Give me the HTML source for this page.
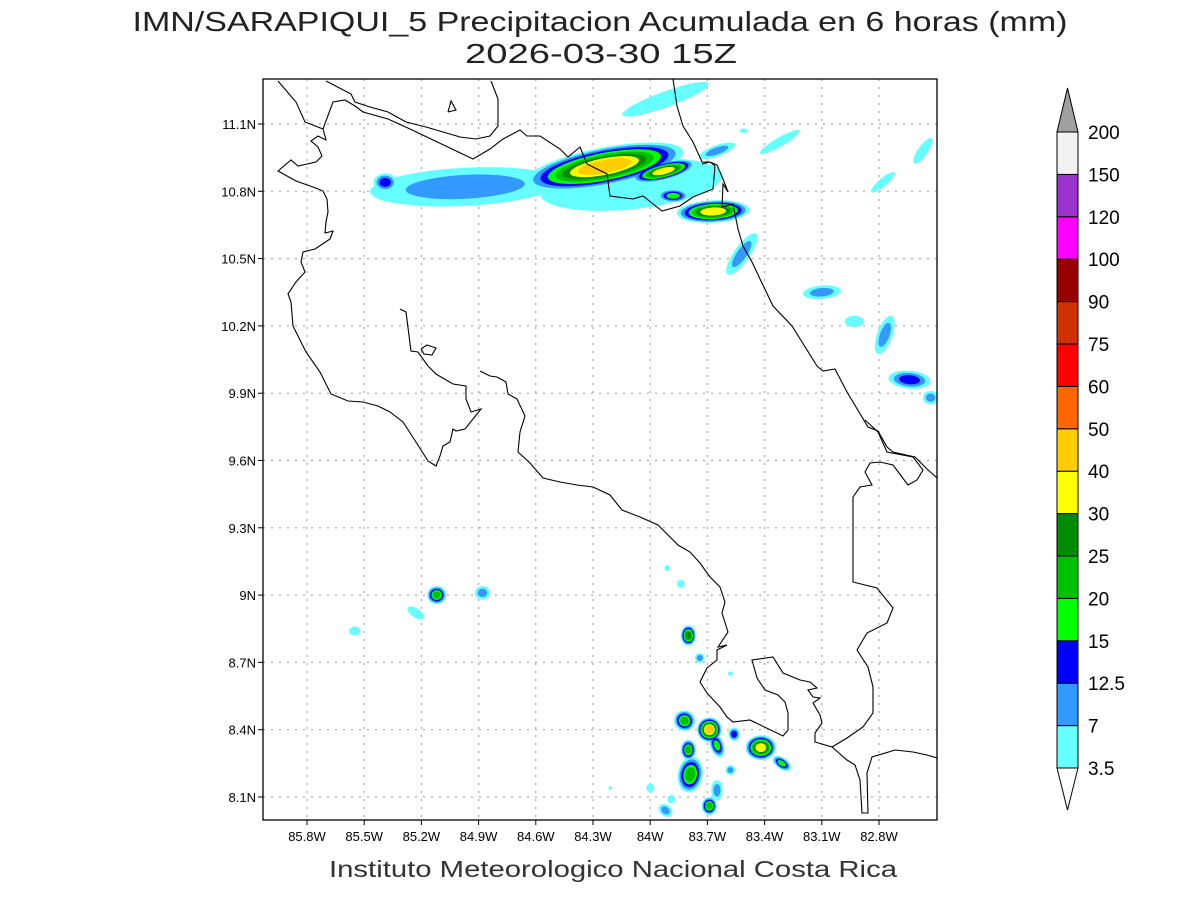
<!DOCTYPE html>
<html><head><meta charset="utf-8"><style>
html,body{margin:0;padding:0;background:#fff;}
svg{display:block;font-family:"Liberation Sans",sans-serif;}
</style></head><body>
<svg id="chart" width="1200" height="900" viewBox="0 0 1200 900" xmlns="http://www.w3.org/2000/svg">
<rect width="1200" height="900" fill="#fff"/>
<text x="600" y="31" font-size="28" text-anchor="middle" textLength="935" lengthAdjust="spacingAndGlyphs" fill="#222">IMN/SARAPIQUI_5 Precipitacion Acumulada en 6 horas (mm)</text>
<text x="601" y="63" font-size="28" text-anchor="middle" textLength="272" lengthAdjust="spacingAndGlyphs" fill="#222">2026-03-30 15Z</text>
<text x="613" y="877" font-size="23" text-anchor="middle" textLength="568" lengthAdjust="spacingAndGlyphs" fill="#333">Instituto Meteorologico Nacional Costa Rica</text>
<defs><clipPath id="plotclip"><rect x="263" y="79" width="674" height="741"/></clipPath></defs>
<g id="grid"></g>
<g id="shades" clip-path="url(#plotclip)"></g>
<g id="coast" clip-path="url(#plotclip)" fill="none" stroke="#000" stroke-width="1.1"></g>
<rect x="263" y="79" width="674" height="741" fill="none" stroke="#000" stroke-width="1.3"/>
<g id="axes"></g>
<g id="cbar"></g>
</svg>
<script>
// axis ticks
const lonTicks = [85.8,85.5,85.2,84.9,84.6,84.3,84.0,83.7,83.4,83.1,82.8];
const lonLabels = ["85.8W","85.5W","85.2W","84.9W","84.6W","84.3W","84W","83.7W","83.4W","83.1W","82.8W"];
const latTicks = [11.1,10.8,10.5,10.2,9.9,9.6,9.3,9.0,8.7,8.4,8.1];
const latLabels = ["11.1N","10.8N","10.5N","10.2N","9.9N","9.6N","9.3N","9N","8.7N","8.4N","8.1N"];
// colorbar
const levels = [3.5,7,12.5,15,20,25,30,40,50,60,75,90,100,120,150,200];
const levelColors = ["#66ffff","#3399ff","#0000ff","#00ff00","#00c000","#008c00","#ffff00","#ffcc00","#ff6600","#ff0000","#cc3300","#990000","#ff00ff","#9933cc","#f2f2f2"];
// precipitation cells (west longitude, north latitude, peak mm, radii deg, rotation)
const cellLon  = [84.10,84.97,85.39,84.24,83.93,83.92,83.65,83.67,83.88,83.52,83.10,82.93,82.77,82.64,82.53,83.32,82.78,82.57,83.51,
                  85.12,84.88,85.23,85.55,83.91,83.84,83.80,83.74,83.58,83.82,83.69,83.65,83.56,83.42,83.31,83.80,83.79,83.58,83.65,83.69,84.00,83.89,83.92,84.21];
const cellLat  = [10.83,10.82,10.84,10.91,10.89,11.21,10.98,10.71,10.78,10.52,10.35,10.22,10.16,9.96,9.88,11.02,10.84,10.98,11.07,
                  9.00,9.01,8.92,8.84,9.12,9.05,8.82,8.72,8.65,8.44,8.40,8.33,8.38,8.32,8.25,8.31,8.20,8.22,8.13,8.06,8.14,8.09,8.04,8.14];
const cellPeak = [5,11,13,45,32,5,9,35,18,12,9,6,9,13,8,4,4,6,4,
                  22,10,6,6,4,6,28,8,4,22,45,20,14,40,20,22,25,10,8,22,4,5,9,3.6];
const cellRx   = [0.48,0.50,0.06,0.42,0.17,0.24,0.10,0.19,0.08,0.13,0.10,0.05,0.04,0.11,0.04,0.12,0.08,0.08,0.02,
                  0.05,0.04,0.05,0.03,0.015,0.02,0.04,0.025,0.012,0.055,0.065,0.035,0.03,0.08,0.055,0.04,0.065,0.025,0.03,0.04,0.02,0.02,0.04,0.008];
const cellRy   = [0.11,0.085,0.04,0.085,0.04,0.035,0.025,0.05,0.03,0.035,0.03,0.025,0.09,0.04,0.03,0.02,0.018,0.022,0.01,
                  0.04,0.03,0.02,0.02,0.013,0.018,0.045,0.022,0.01,0.045,0.055,0.055,0.03,0.055,0.025,0.045,0.08,0.022,0.045,0.04,0.02,0.02,0.025,0.008];
const cellRot  = [-6,-3,0,-11,-14,-20,-20,-3,0,-55,-5,0,20,5,0,-30,-40,-55,0,
                  0,0,35,0,0,0,0,0,0,30,0,-20,0,0,35,0,10,0,0,0,0,0,40,0];

const NS="http://www.w3.org/2000/svg";
const X0=263,X1=937,Y0=79,Y1=820;
function xOf(lonW){return 307+(85.8-lonW)*(572/3.0);}
function yOf(lat){return 124+(11.1-lat)*(673/3.0);}
function mk(tag,attrs,parent){const e=document.createElementNS(NS,tag);for(const k in attrs)e.setAttribute(k,attrs[k]);parent.appendChild(e);return e;}

const grid=document.getElementById('grid'),axes=document.getElementById('axes');
lonTicks.forEach((v,i)=>{
  const x=xOf(v);
  const gl=mk('line',{x1:x,y1:Y0,x2:x,y2:Y1,stroke:'#aaa','stroke-width':1.2,'stroke-dasharray':'2,6'},grid);
  
  
  const tk=mk('line',{x1:x,y1:Y1,x2:x,y2:Y1+5,stroke:'#000'},axes);
  
  
  const t=mk('text',{x:x,y:841,'font-size':13,'text-anchor':'middle',fill:'#000'},axes);
  t.textContent=lonLabels[i];
  
  
});
latTicks.forEach((v,i)=>{
  const y=yOf(v);
  const gl=mk('line',{x1:X0,y1:y,x2:X1,y2:y,stroke:'#aaa','stroke-width':1.2,'stroke-dasharray':'2,6'},grid);
  
  
  const tk=mk('line',{x1:X0-5,y1:y,x2:X0,y2:y,stroke:'#000'},axes);
  
  
  const t=mk('text',{x:256,y:y+5,'font-size':13,'text-anchor':'end',fill:'#000'},axes);
  t.textContent=latLabels[i];
  
  
});

// shading: draw level by level
const shades=document.getElementById('shades');
for(let li=0;li<levelColors.length;li++){
  for(let c=0;c<cellLon.length;c++){
    const p=cellPeak[c];
    const k=levels.filter(t=>t<p).length;
    if(li>=k)continue;
    const s=1-0.75*(li/k);
    const cx=xOf(cellLon[c]),cy=yOf(cellLat[c]);
    const e=mk('ellipse',{cx:cx,cy:cy,rx:cellRx[c]*190.7*s,ry:cellRy[c]*224.3*s,fill:levelColors[li],
      transform:`rotate(${cellRot[c]} ${cx} ${cy})`},shades);
    
    
  }
}

// coastlines (base map, pixel paths)
const coastPaths=[
"278,81 296,102 305,122 323,129 326,140 318,136 311,141 318,147 322,156 316,162 298,166 291,160 278,171 296,181 313,187 323,191 327,199 328,212 326,222 325,233 333,231 330,239 315,249 303,252 301,262 305,272 296,282 288,294 291,302 293,326 298,336 306,352 320,372 331,394 348,401 363,402 378,406 390,412 403,422 416,442 428,461 436,466 440,456 443,446 450,442 453,429 456,431 465,429 481,409 471,412 466,399 466,386 453,384 436,374 428,366 418,352 411,351 406,312 400,309",
"326,81 351,94 355,102 370,107 388,112 406,122 426,127 443,132 460,137 476,139 490,136 498,126 498,99 491,81",
"448,112 451,101 456,110 448,112",
"421,349 427,345 436,348 432,355 424,354 421,349",
"323,129 333,102 345,100 355,106 363,112 388,119 410,129 473,159 490,149 503,139 520,130 527,136 540,136 560,149 568,157 580,147 587,164 607,174 610,196 633,199 643,196 662,211 680,206 693,197 713,189 715,166 710,162 702,164",
"673,79 677,106 683,126 693,142 702,162 710,162 717,165 723,179 728,192 723,184 722,207 733,204 738,229 743,246 752,262 760,279 773,306 792,326 817,366 823,371 835,369 847,392 868,427 878,431 887,447 893,452 915,457 927,469 937,478",
"480,371 490,376 497,377 506,382 508,394 517,399 525,416 520,432 518,452 530,463 543,478 560,482 577,485 593,487 610,495 622,510 640,517 658,525 670,537 678,545 690,552 700,563 710,577 720,587 725,602 722,613 728,632 718,647 727,645 717,650 717,660 707,668 700,682 707,693 720,707 727,717 733,722 750,720 783,736 788,730 788,713 785,702 778,695 765,690 757,678 752,660 773,657 783,673 800,680 810,682 817,688 808,690 813,697 820,698 813,703 820,715 822,723 815,733 815,742 832,747 847,760 855,765 860,780 862,813 868,813 867,773 872,757 895,750 913,752 927,755 937,758",
"865,420 878,432 887,452 913,457 923,470 917,480 908,485 893,465 880,462 870,463 865,472 872,485 860,487 853,497 853,582 877,588 893,608 887,623 867,633 857,650 868,667 873,687 873,713 863,727 847,738 832,747"
];
const coast=document.getElementById('coast');
coastPaths.forEach(p=>{
  const pl=mk('polyline',{points:p},coast);
  
  
});

// colorbar
const cb=document.getElementById('cbar');
const cbX=1057,cbW=21,cbTop=132,cbBot=768,step=(cbBot-cbTop)/levelColors.length;
const up=mk('polygon',{points:`${cbX},${cbTop} ${cbX+cbW/2},88 ${cbX+cbW},${cbTop}`,fill:'#a0a0a0',stroke:'#000'},cb);


levelColors.forEach((col,i)=>{
  const y=cbBot-(i+1)*step;
  const r=mk('rect',{x:cbX,y:y,width:cbW,height:step,fill:col,stroke:'#000','stroke-width':1},cb);
  
  
});
const dn=mk('polygon',{points:`${cbX},${cbBot} ${cbX+cbW/2},810 ${cbX+cbW},${cbBot}`,fill:'#fff',stroke:'#000'},cb);


levels.forEach((v,i)=>{
  const y=cbBot-i*step;
  const t=mk('text',{x:1088,y:y+7,'font-size':19,fill:'#000'},cb);
  t.textContent=String(v);
  
  
});
</script>
</body></html>
